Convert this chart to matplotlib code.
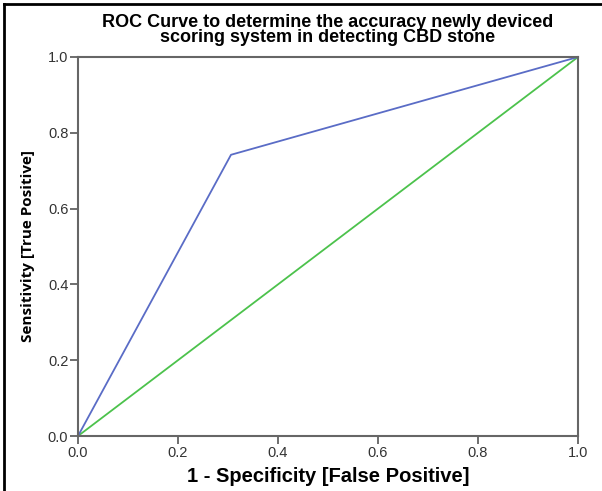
import matplotlib
matplotlib.use("Agg")
import matplotlib.pyplot as plt
from matplotlib.lines import Line2D

plt.rcParams["font.family"] = ["Liberation Sans", "DejaVu Sans"]

# ROC curve points
fpr = [0.0, 0.306, 1.0]
tpr = [0.0, 0.742, 1.0]
# reference line
ref_x = [0.0, 1.0]
ref_y = [0.0, 1.0]
ticks = [0.0, 0.2, 0.4, 0.6, 0.8, 1.0]

fig = plt.figure(figsize=(6.02, 4.91), dpi=100)
ax = fig.add_axes([78 / 602, 55 / 491, 500 / 602, 379 / 491])

ax.plot(ref_x, ref_y, color="#4cc24c", linewidth=1.3)
ax.plot(fpr, tpr, color="#5a6cc6", linewidth=1.3)

ax.set_xlim(0, 1)
ax.set_ylim(0, 1)
ax.set_xticks(ticks)
ax.set_yticks(ticks)
ax.set_xticklabels([f"{t:.1f}" for t in ticks])
ax.set_yticklabels([f"{t:.1f}" for t in ticks])
ax.tick_params(direction="out", length=6, width=1.2, color="#555555",
               labelsize=10.5, labelcolor="#333333", pad=1)
for s in ax.spines.values():
    s.set_color("#666666")
    s.set_linewidth(1.5)

ax.set_xlabel("1 - Specificity [False Positive]", fontsize=14.5, fontweight="bold", labelpad=5)
ax.set_ylabel("Sensitivity [True Positive]", family="Open Sans", fontsize=11,
              fontweight="bold", labelpad=9)
ax.set_title("ROC Curve to determine the accuracy newly deviced\nscoring system in detecting CBD stone",
             fontsize=13, fontweight="bold", linespacing=0.85, pad=11)

# frame of the original screenshot (top and left edges)
fig.add_artist(Line2D([4 / 602, 4 / 602], [0, 1 - 4 / 491], transform=fig.transFigure,
                      color="black", linewidth=2))
fig.add_artist(Line2D([4 / 602, 1], [1 - 4 / 491, 1 - 4 / 491], transform=fig.transFigure,
                      color="black", linewidth=2))

fig.savefig("out.png", dpi=100)
